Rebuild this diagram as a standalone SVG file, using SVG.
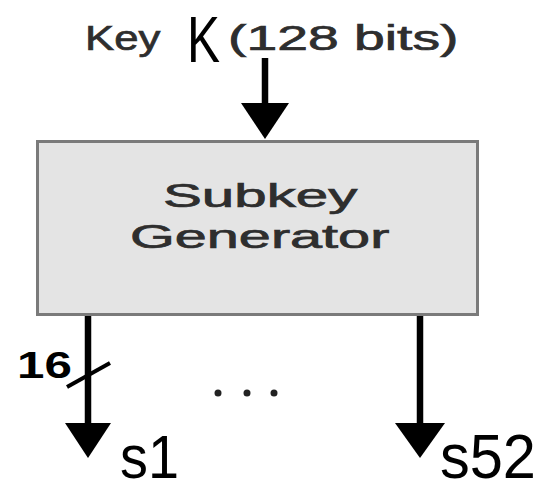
<svg xmlns="http://www.w3.org/2000/svg" width="544" height="483" viewBox="0 0 544 483">
  <style>
    .lbl { font-family: "Liberation Sans", Arial, sans-serif; fill: #2e2e2e; stroke: #2e2e2e; stroke-width: 0.7; }
    .big { font-family: "Liberation Sans", Arial, sans-serif; fill: #000; }
    .wire { stroke: #000; stroke-width: 6.5; fill: none; }
    .head { fill: #000; }
  </style>
  <rect width="544" height="483" fill="#fff"/>

  <!-- input key label -->
  <g id="key-label">
    <text class="lbl" transform="translate(85,50) scale(1.25,1)" font-size="35">Key</text>
    <text class="big" x="187" y="62" font-size="64" textLength="33" lengthAdjust="spacingAndGlyphs" fill="#111">K</text>
    <text class="lbl" transform="translate(228,50) scale(1.58,1)" font-size="35">(128 bits)</text>
  </g>

  <!-- subkey generator block -->
  <g id="subkey-generator">
    <rect x="37.5" y="141.5" width="440" height="173" fill="#e4e4e4" stroke="#7a7a7a" stroke-width="3"/>
    <text class="lbl" transform="translate(163,207) scale(1.74,1)" font-size="33.5">Subkey</text>
    <text class="lbl" transform="translate(130,248) scale(1.72,1)" font-size="33.5">Generator</text>
  </g>

  <!-- connectors -->
  <g id="connectors">
    <line class="wire" x1="265" y1="58" x2="265" y2="108"/>
    <polygon class="head" points="241,103 289,103 265,139"/>

    <line class="wire" x1="88" y1="316" x2="88" y2="426"/>
    <polygon class="head" points="65,423 111,423 88,458"/>
    <line x1="67" y1="387" x2="110" y2="363" stroke="#000" stroke-width="4"/>

    <line class="wire" x1="420" y1="316" x2="420" y2="426"/>
    <polygon class="head" points="395,423 445,423 420,458"/>
  </g>

  <!-- bus width -->
  <g id="bus-width">
    <text class="big" transform="translate(17,378) scale(1.37,1)" font-size="36" font-weight="bold">16</text>
  </g>

  <!-- ellipsis between outputs -->
  <g id="ellipsis" fill="#222">
    <circle cx="218" cy="393" r="3.5"/>
    <circle cx="247" cy="393" r="3.5"/>
    <circle cx="274" cy="393" r="3.5"/>
  </g>

  <!-- output subkeys -->
  <g id="out-s1">
    <text class="big" transform="translate(120,478) scale(0.9,1)" font-size="62">s1</text>
  </g>
  <g id="out-s52">
    <text class="big" transform="translate(440,478) scale(0.96,1)" font-size="62">s52</text>
  </g>
</svg>
